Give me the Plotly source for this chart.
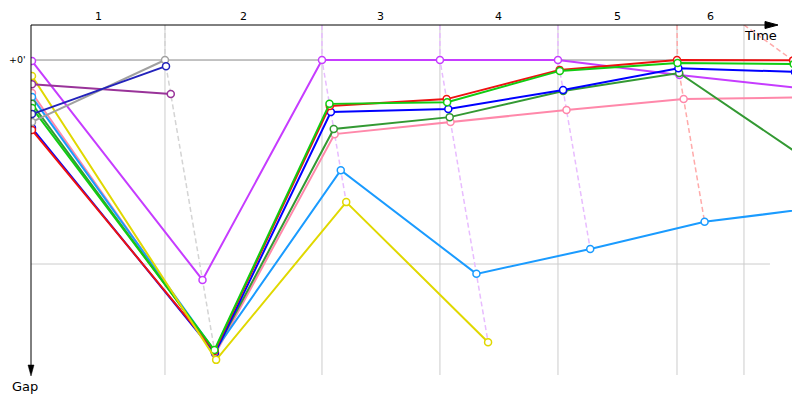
import plotly.graph_objects as go

# ---------------- data (time in s, gap to leader in s) ----------------
LAP_T = [0.0, 229.3, 500.0, 703.4, 906.9, 1112.1, 1312.1]   # leader crossing times per lap
GRID_T = [229.3, 500.0, 703.4, 906.9, 1112.1, 1227.6]       # lap boundary grid lines
LAP_LABELS = ["1", "2", "3", "4", "5", "6"]
LAP_LINE_COLORS = ["#d4d4d4", "#e8bcff", "#e8bcff", "#e8bcff", "#ffaaaa", "#ffaaaa"]

DRIVERS = ["violet", "pink", "lightblue", "darkgreen", "blue", "red", "green",
           "yellow", "purple", "gray", "navy"]
COLORS = {
    "violet": "#c63cff", "pink": "#ff88aa", "lightblue": "#1a9bff",
    "darkgreen": "#339933", "blue": "#0000ff", "red": "#ee1111",
    "green": "#11cc11", "yellow": "#e0d800", "purple": "#993399",
    "gray": "#a0a0a0", "navy": "#2222bb",
}
# gap per lap (lap 0 = start)
gap_violet = [0.3, 64.7, 0.0, 0.0, 0.0, 4.4, 8.2]
gap_pink = [9.7, 86.5, 21.8, 18.2, 14.7, 11.5, 11.0]
gap_lightblue = [10.9, 85.6, 32.4, 62.9, 55.6, 47.6, 43.4]
gap_darkgreen = [12.9, 85.9, 20.3, 16.8, 9.1, 3.8, 30.0]
gap_blue = [20.0, 86.2, 15.3, 14.4, 8.8, 2.4, 3.5]
gap_red = [20.6, 85.6, 13.5, 11.5, 2.9, 0.0, 0.1]
gap_green = [14.1, 85.3, 12.9, 12.4, 3.2, 0.9, 1.2]
gap_yellow = [4.7, 88.2, 41.8, 83.0]
gap_purple = [7.1, 10.0]
gap_gray = [18.2, 0.0]
gap_navy = [15.9, 1.8]
GAPS = {
    "violet": gap_violet, "pink": gap_pink, "lightblue": gap_lightblue,
    "darkgreen": gap_darkgreen, "blue": gap_blue, "red": gap_red,
    "green": gap_green, "yellow": gap_yellow, "purple": gap_purple,
    "gray": gap_gray, "navy": gap_navy,
}
ZERO_LABEL = "+0'"
GRID_GAP = 60.0

X_RANGE = [-1.7, 1324.2]
Y_RANGE = [92.65, -10.3]   # reversed: gap grows downward
GRID_END_T = 1272.4


def lap_time(lap, gap):
    return 0.0 if lap == 0 else LAP_T[lap] + gap


fig = go.Figure()

# lap lines (dashed), connecting each lap's crossings in order of gap
for k in range(1, len(LAP_T)):
    pts = []
    for d in DRIVERS:
        g = GAPS[d]
        if len(g) > k:
            pts.append((g[k], lap_time(k, g[k])))
    pts.sort()
    xs = [GRID_T[k - 1]] + [p[1] for p in pts]
    ys = [Y_RANGE[1]] + [p[0] for p in pts]
    fig.add_trace(go.Scatter(x=xs, y=ys, mode="lines", hoverinfo="skip",
                             line=dict(color=LAP_LINE_COLORS[k - 1], width=1.5,
                                       dash="5px,3px")))

# driver lines
for d in DRIVERS:
    g = GAPS[d]
    xs = [lap_time(k, v) for k, v in enumerate(g)]
    fig.add_trace(go.Scatter(
        x=xs, y=g, mode="lines+markers", name=d,
        line=dict(color=COLORS[d], width=2),
        marker=dict(symbol="circle", size=7, color="white",
                    line=dict(color=COLORS[d], width=1.5)),
    ))

shapes = []
for t in GRID_T:
    shapes.append(dict(type="line", xref="x", yref="paper", x0=t, x1=t, y0=0, y1=1,
                       line=dict(color="#cccccc", width=1), layer="below"))
shapes.append(dict(type="line", xref="x", yref="y", x0=X_RANGE[0], x1=GRID_END_T,
                   y0=GRID_GAP, y1=GRID_GAP, line=dict(color="#cccccc", width=1), layer="below"))
shapes.append(dict(type="line", xref="x", yref="y", x0=X_RANGE[0], x1=GRID_END_T,
                   y0=0, y1=0, line=dict(color="#888888", width=1), layer="below"))

# axes with arrows (paper coords; plot area is 769 x 350 px, page x 31..800, y 25..375)
W, H = 769.0, 350.0
def px(x):
    return (x - 31) / W
def py(y):
    return (375 - y) / H

shapes.append(dict(type="line", xref="paper", yref="paper", x0=px(31), x1=px(767),
                   y0=py(25), y1=py(25), line=dict(color="black", width=1)))
shapes.append(dict(type="path", xref="paper", yref="paper",
                   path=f"M{px(765)},{py(21.5)} L{px(778)},{py(25)} L{px(765)},{py(28.5)} Z",
                   fillcolor="black", line=dict(color="black", width=1)))
shapes.append(dict(type="line", xref="paper", yref="paper", x0=px(31), x1=px(31),
                   y0=py(25), y1=py(366), line=dict(color="black", width=1)))
shapes.append(dict(type="path", xref="paper", yref="paper",
                   path=f"M{px(28)},{py(365)} L{px(31)},{py(376)} L{px(34)},{py(365)} Z",
                   fillcolor="black", line=dict(color="black", width=0.5)))

annotations = []
bounds = [0.0] + GRID_T
for i, lab in enumerate(LAP_LABELS):
    annotations.append(dict(x=(bounds[i] + bounds[i + 1]) / 2, y=1, xref="x", yref="paper",
                            text=lab, showarrow=False, xanchor="center", yanchor="bottom",
                            yshift=0,
                            font=dict(size=11, color="black", family="DejaVu Sans")))
annotations.append(dict(x=0, y=0, xref="paper", yref="y", text=ZERO_LABEL, showarrow=False,
                        xanchor="right", yanchor="middle", xshift=-4, yshift=1, borderpad=0,
                        font=dict(size=9.5, color="black", family="DejaVu Sans")))
annotations.append(dict(x=px(760), y=py(35), xref="paper", yref="paper", text="Time",
                        showarrow=False, xanchor="center", yanchor="middle",
                        font=dict(size=13, color="black", family="DejaVu Sans")))
annotations.append(dict(x=px(25), y=py(386), xref="paper", yref="paper", text="Gap",
                        showarrow=False, xanchor="center", yanchor="middle",
                        font=dict(size=13, color="black", family="DejaVu Sans")))

# page body has an 8px margin, so the figure is sized to end at the window edge
fig.update_layout(
    width=792, height=392,
    margin=dict(l=23, r=0, t=17, b=25),
    plot_bgcolor="white", paper_bgcolor="white",
    showlegend=False,
    xaxis=dict(range=X_RANGE, visible=False),
    yaxis=dict(range=Y_RANGE, visible=False),
    shapes=shapes, annotations=annotations,
)

fig.write_html("out.html")
